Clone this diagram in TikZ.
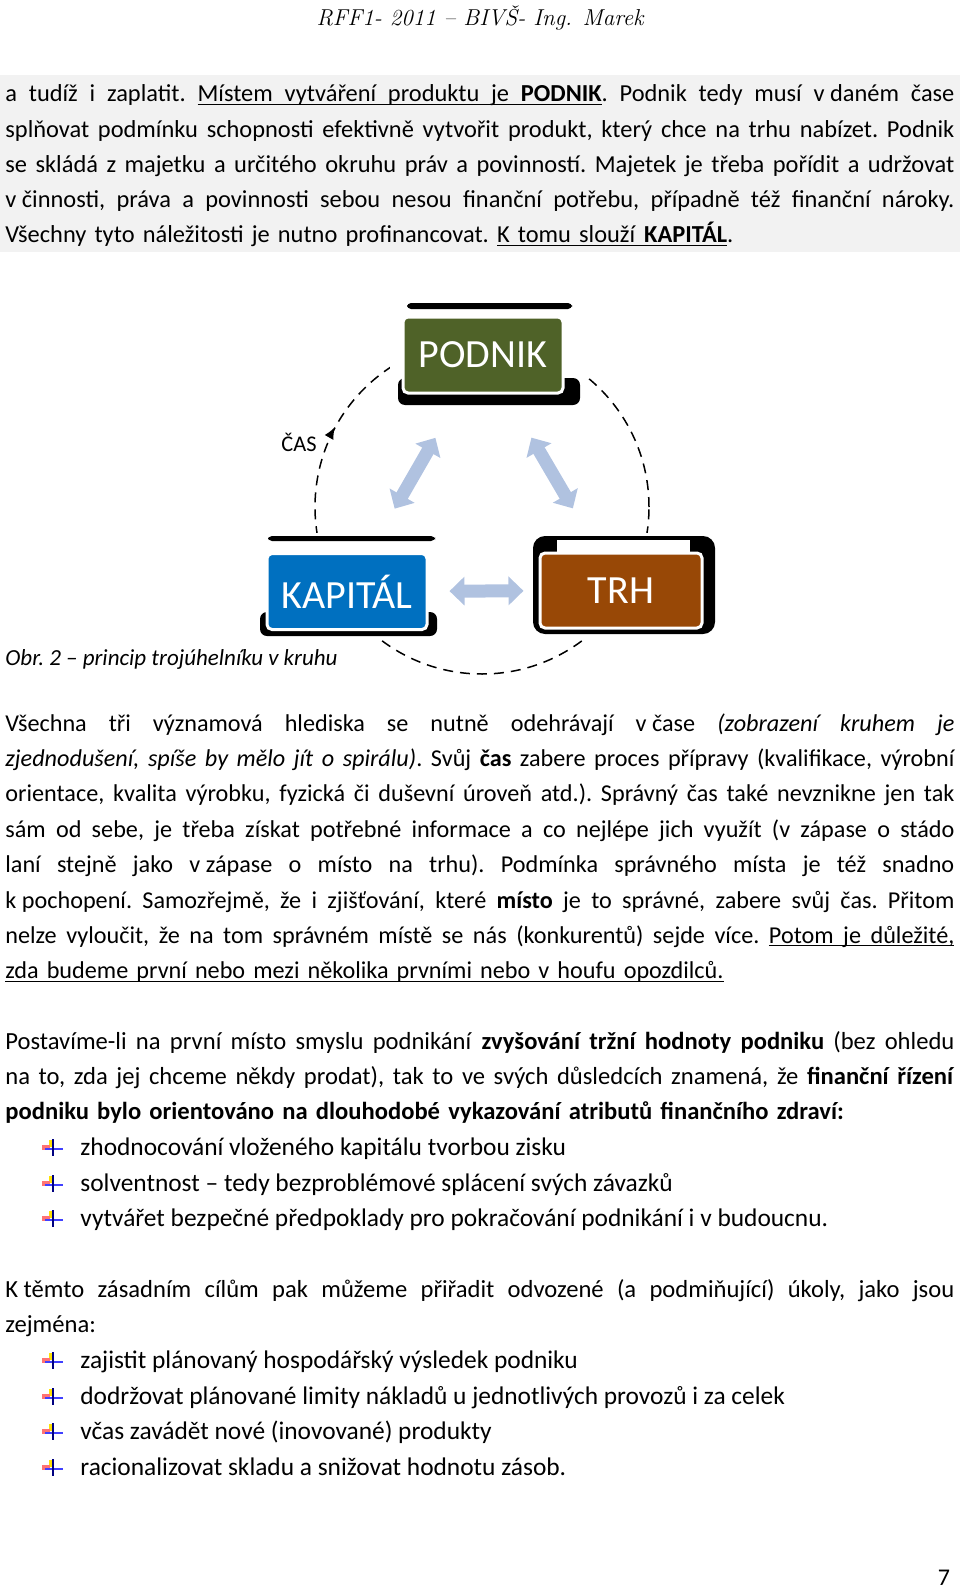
\documentclass[tikz,border=0pt]{standalone}
\usepackage{fontspec}
\newfontfamily\calibri{Carlito}
\usetikzlibrary{arrows.meta}
\newcommand{\jl}[1]{{\spaceskip=0pt\xspaceskip=0pt\makebox[474.5pt][s]{#1}}}
\newcommand{\ulx}[1]{\leavevmode\setbox0\hbox{#1}\rlap{\rule[-1.4pt]{\wd0}{0.5pt}}\box0}
\newcommand{\usp}{\leaders\hrule height -0.9pt depth 1.4pt\hskip\fontdimen2\font plus\fontdimen3\font minus\fontdimen4\font\relax}
\newcommand{\nb}{\nobreak\hspace{0.226em}}
\definecolor{podnikgreen}{RGB}{79,98,40}
\definecolor{kapitalblue}{RGB}{0,112,192}
\definecolor{trhbrown}{RGB}{152,72,6}
\definecolor{arrowblue}{RGB}{176,194,224}
\definecolor{bandgray}{RGB}{242,242,242}
\tikzset{plusicon/.pic={
    \fill[yellow!85!orange] (-4,-8) rectangle (1,-1);
    \fill[red!55!white] (-11,-3) rectangle (-3,2);
    \draw[blue!75!white,line width=1.2pt] (-8,1) -- (10,1);
    \draw[blue!50!black,line width=1pt] (0,-9) -- (0,8);
}}
\begin{document}
\begin{tikzpicture}[x=0.5pt,y=-0.5pt]
\tikzstyle{para}=[anchor=base west,inner sep=0pt,text width=474.5pt,align=left,font=\calibri\frenchspacing\fontsize{12.3}{17.7}\selectfont]
\tikzstyle{item}=[anchor=base west,inner sep=0pt,font=\calibri\frenchspacing\fontsize{12.7}{17.7}\selectfont]
\tikzstyle{box}=[rounded corners=2.5pt,draw=white,line width=1.5pt,minimum width=80pt,minimum height=38pt,inner sep=0pt,text=white,font=\calibri\fontsize{20}{20}\selectfont]
\tikzstyle{twoway}=[draw=arrowblue,line width=6.5pt,{Triangle[length=7.5pt,width=14pt]}-{Triangle[length=7.5pt,width=14pt]}]
\tikzstyle{timeline}=[dash pattern=on 5pt off 3.5pt,line width=0.75pt]
\useasboundingbox (0,0) rectangle (960,1589);
\fill[bandgray] (0,75) rectangle (960,252);
\node[font=\itshape\fontsize{11.5}{14}\selectfont] (header) at (480,18) {RFF1- 2011 – BIVŠ- Ing. Marek};
\node[para,font=\calibri\frenchspacing\fontsize{12.2}{17.6}\selectfont] (intro) at (5,102) {%
\jl{a tudíž i zaplatit. \ulx{Místem}\usp\ulx{vytváření}\usp\ulx{produktu}\usp\ulx{je}\usp\ulx{\textbf{PODNIK}}. Podnik tedy musí v\nb daném čase}\\
\jl{splňovat podmínku schopnosti efektivně vytvořit produkt, který chce na trhu nabízet. Podnik}\\
\jl{se skládá z majetku a určitého okruhu práv a povinností. Majetek je třeba pořídit a udržovat}\\
\jl{v\nb činnosti, práva a povinnosti sebou nesou finanční potřebu, případně též finanční nároky.}\\
Všechny tyto náležitosti je nutno profinancovat. \ulx{K tomu slouží \textbf{KAPITÁL}}.};
\draw[timeline] (482,507) circle[radius=83.5pt];
\draw[line width=0.75pt,-{Latex[length=6pt,width=5pt]}] (331,434) -- (335,427);
\fill[white] (390,298) rectangle (588,410);
\fill[white] (255,533) rectangle (442,640);
\fill[white] (528,533) rectangle (720,640);
\fill[black,rounded corners=2pt] (407,303) rectangle (572,309);
\fill[black,rounded corners=3.5pt] (398,378) rectangle (580,405);
\fill[black,rounded corners=2pt] (268,536) rectangle (435,541);
\fill[black,rounded corners=3.5pt] (260,612) rectangle (437,636);
\fill[black,rounded corners=6pt] (533,536) rectangle (715,634);
\fill[white] (557,540) rectangle (690,552);
\node[box,fill=podnikgreen] (podnik) at (483,355) {PODNIK};
\node[box,fill=kapitalblue] (kapital) at (347,591.5) {KAPITÁL};
\node[box,fill=trhbrown,minimum width=81pt,minimum height=37.5pt] (trh) at (621,590.5) {TRH};
\node[font=\calibri\fontsize{11.2}{13}\selectfont] (cas) at (299,442) {ČAS};
\draw[twoway,shorten <=25pt,shorten >=25pt] (kapital) -- (podnik);
\draw[twoway,shorten <=25pt,shorten >=25pt] (trh) -- (podnik);
\draw[twoway,shorten <=10.5pt,shorten >=7.5pt] (kapital) -- (trh);
\node[item,font=\calibri\itshape\frenchspacing\fontsize{11.5}{13}\selectfont] (caption) at (5,665) {Obr. 2 – princip trojúhelníku v kruhu};
\node[para,font=\calibri\frenchspacing\fontsize{12.1}{17.7}\selectfont] (time) at (5,731) {%
\jl{Všechna tři významová hlediska se nutně odehrávají v\nb čase \textit{(zobrazení kruhem je}}\\
\jl{\textit{zjednodušení, spíše by mělo jít o spirálu)}. Svůj \textbf{čas} zabere proces přípravy (kvalifikace, výrobní}\\
\jl{orientace, kvalita výrobku, fyzická či duševní úroveň atd.). Správný čas také nevznikne jen tak}\\
\jl{sám od sebe, je třeba získat potřebné informace a co nejlépe jich využít (v zápase o stádo}\\
\jl{laní stejně jako v\nb zápase o místo na trhu). Podmínka správného místa je též snadno}\\
\jl{k\nb pochopení. Samozřejmě, že i zjišťování, které \textbf{místo} je to správné, zabere svůj čas. Přitom}\\
\jl{nelze vyloučit, že na tom správném místě se nás (konkurentů) sejde více. \ulx{Potom}\usp\ulx{je}\usp\ulx{důležité,}}\\
\ulx{zda budeme první nebo mezi několika prvními nebo v houfu opozdilců.}};
\node[para] (value) at (5,1049) {%
\jl{Postavíme-li na první místo smyslu podnikání \textbf{zvyšování tržní hodnoty podniku} (bez ohledu}\\
\jl{na to, zda jej chceme někdy prodat), tak to ve svých důsledcích znamená, že \textbf{finanční řízení}}\\
\textbf{podniku bylo orientováno na dlouhodobé vykazování atributů finančního zdraví:}};
\node[para] (goals) at (5,1297.5) {%
\jl{K\nb těmto zásadním cílům pak můžeme přiřadit odvozené (a podmiňující) úkoly, jako jsou}\\
zejména:};
\foreach \y/\t [count=\i] in {1155/{zhodnocování vloženého kapitálu tvorbou zisku},
    1191/{solventnost – tedy bezproblémové splácení svých závazků},
    1226/{vytvářet bezpečné předpoklady pro pokračování podnikání i v budoucnu.},
    1368/{zajistit plánovaný hospodářský výsledek podniku},
    1404/{dodržovat plánované limity nákladů u jednotlivých provozů i za celek},
    1439/{včas zavádět nové (inovované) produkty},
    1475/{racionalizovat skladu a snižovat hodnotu zásob.}}{
    \pic at (53,\y-7) {plusicon};
    \node[item] (b\i) at (80,\y) {\t};
}
\node[anchor=base east,font=\calibri\fontsize{12}{14}\selectfont] (pagenum) at (957,1585) {7};
\end{tikzpicture}
\end{document}
